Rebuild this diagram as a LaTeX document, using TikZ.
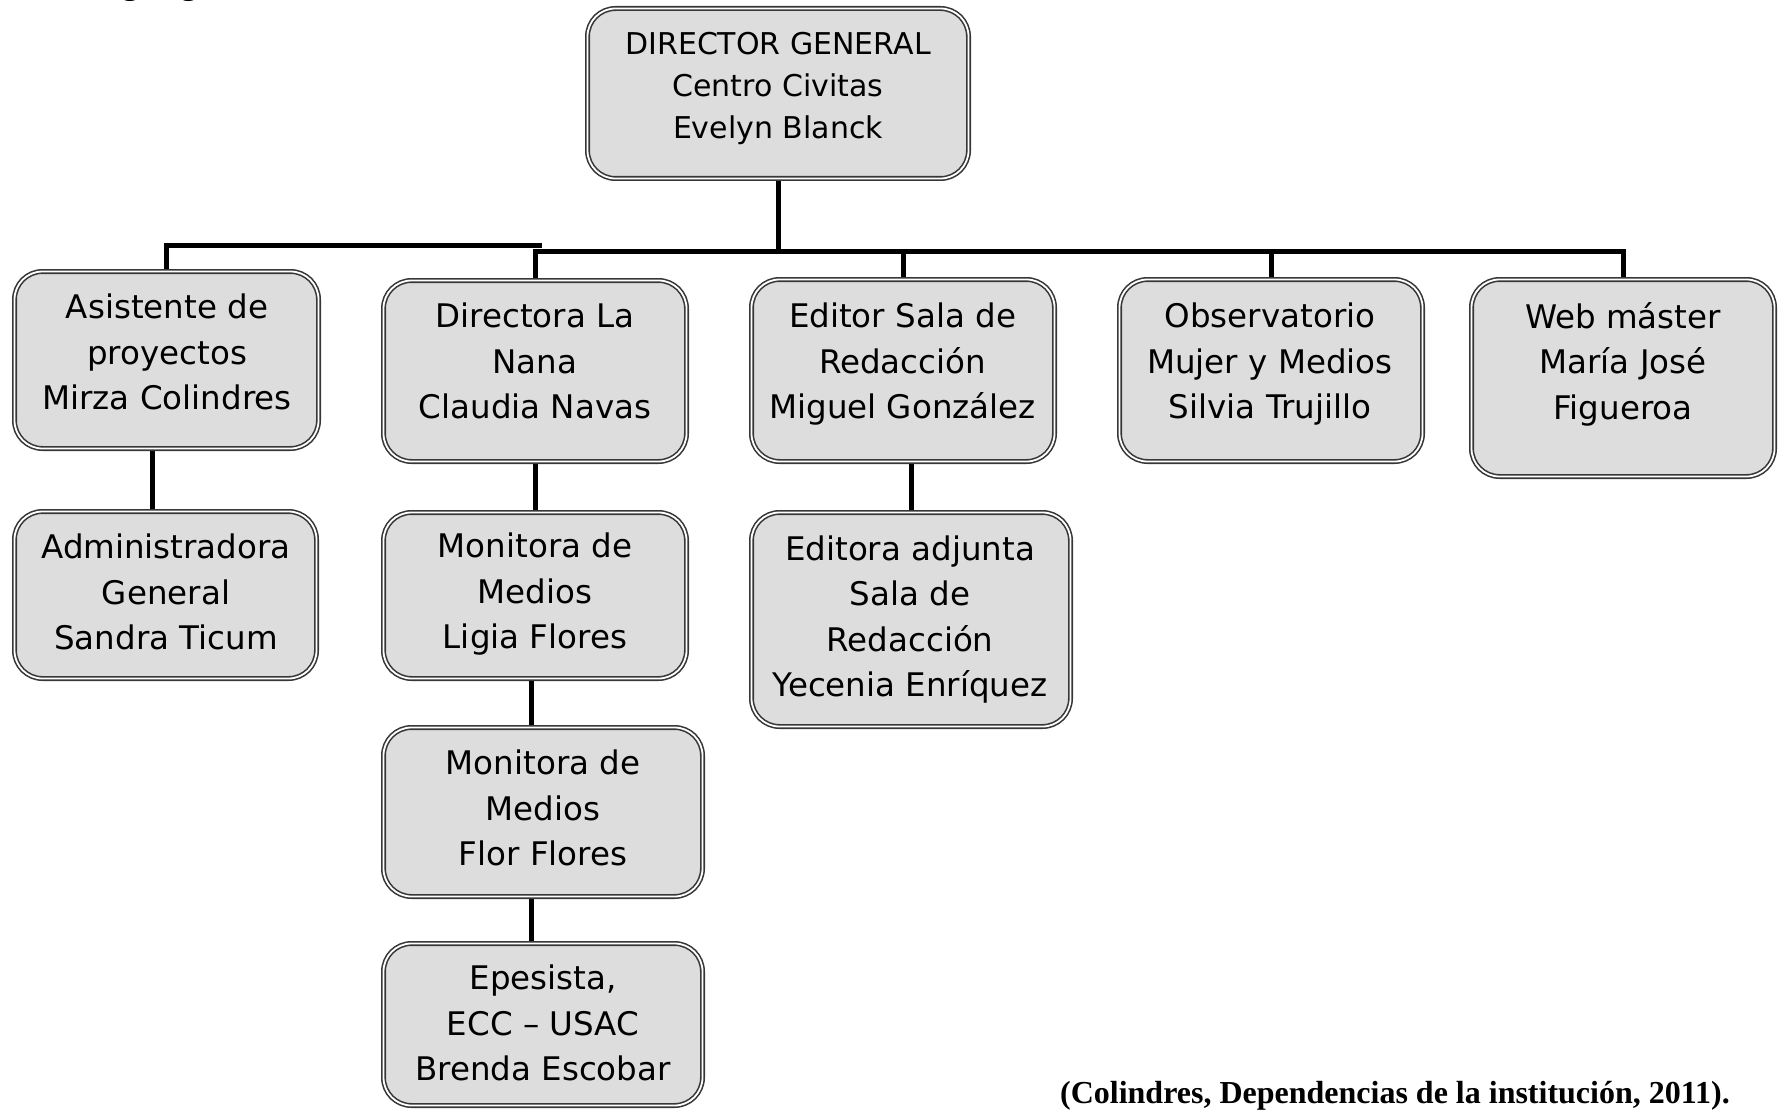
\documentclass[tikz,border=0pt]{standalone}
\usepackage{fontspec}
\setmainfont{DejaVu Sans}
\newfontfamily\citefont{Liberation Serif}
\definecolor{boxfill}{RGB}{221,221,221}
\definecolor{boxline}{RGB}{55,55,55}
\pgfdeclarelayer{bg}
\pgfsetlayers{bg,main}
\tikzset{
  orgbox/.style={draw=boxline, double=white, line width=1.6pt, double distance=1.8pt,
    fill=boxfill, rounded corners=28pt, inner sep=0pt},
  boxtext/.style={align=center, inner sep=0pt, font=\fontsize{32.5}{45.5}\selectfont},
  dirtext/.style={align=center, inner sep=0pt, font=\fontsize{30}{42}\selectfont},
  conn/.style={line width=5pt, black},
  citestyle/.style={inner sep=0pt, font=\citefont\bfseries\fontsize{32}{32}\selectfont}
}
\begin{document}
\begin{tikzpicture}[x=1pt,y=-1pt]
\useasboundingbox (0,0) rectangle (1780,1110);

% cut-off title fragment at top
\node[citestyle, anchor=base west] (title) at (83,-5) {Organigrama};

% boxes
\node[orgbox, minimum width=381pt, minimum height=170pt] (dir) at (778,93.5) {};
\node[orgbox, minimum width=304pt, minimum height=177pt] (asis) at (166.5,360) {};
\node[orgbox, minimum width=303pt, minimum height=181pt] (nana) at (535,371) {};
\node[orgbox, minimum width=303pt, minimum height=182pt] (editor) at (903,370.5) {};
\node[orgbox, minimum width=303pt, minimum height=182pt] (obs) at (1271,370.5) {};
\node[orgbox, minimum width=303pt, minimum height=197pt] (web) at (1623,378) {};
\node[orgbox, minimum width=302pt, minimum height=167pt] (admin) at (165.5,595) {};
\node[orgbox, minimum width=303pt, minimum height=166pt] (ligia) at (535,595.5) {};
\node[orgbox, minimum width=319pt, minimum height=214pt] (editora) at (911,619.5) {};
\node[orgbox, minimum width=319pt, minimum height=169pt] (flor) at (543,812) {};
\node[orgbox, minimum width=319pt, minimum height=162pt] (epes) at (543,1024.5) {};

% texts
\node[dirtext] (dir-t) at (778,88) {DIRECTOR GENERAL\\Centro Civitas\\Evelyn Blanck};
\node[boxtext] (asis-t) at (167,352) {Asistente de\\proyectos\\Mirza Colindres};
\node[boxtext] (nana-t) at (535,361) {Directora La\\Nana\\Claudia Navas};
\node[boxtext] (editor-t) at (902.5,364.5) {Editor Sala de\\Redacción\\Miguel González};
\node[boxtext] (obs-t) at (1270,364.5) {Observatorio\\Mujer y Medios\\Silvia Trujillo};
\node[boxtext] (web-t) at (1623,364) {Web máster\\María José\\Figueroa};
\node[boxtext] (admin-t) at (166,592) {Administradora\\General\\Sandra Ticum};
\node[boxtext] (ligia-t) at (535,594.5) {Monitora de\\Medios\\Ligia Flores};
\node[boxtext] (editora-t) at (910,619.5) {Editora adjunta\\Sala de\\Redacción\\Yecenia Enríquez};
\node[boxtext] (flor-t) at (543,808) {Monitora de\\Medios\\Flor Flores};
\node[boxtext] (epes-t) at (543,1023) {Epesista,\\ECC – USAC\\Brenda Escobar};

% citation
\node[citestyle, anchor=east] (cite) at (1730,1096) {(Colindres, Dependencias de la institución, 2011).};

% connectors
\coordinate (hub) at (778,251);
\coordinate (busL) at (542,245.5);
\begin{pgfonlayer}{bg}
\draw[conn] (dir.south) -- (hub);
\draw[conn] (nana.north) -- (nana.north |- hub) -- (web.north |- hub) -- (web.north);
\draw[conn] (editor.north) -- (editor.north |- hub);
\draw[conn] (obs.north) -- (obs.north |- hub);
\draw[conn] (asis.north) -- (asis.north |- busL) -- (busL);
\draw[conn] ([xshift=-13.5pt]admin.north) -- ([xshift=-13.5pt]admin.north |- asis.south);
\draw[conn] (ligia.north) -- (ligia.north |- nana.south);
\draw[conn] (editora.north) -- (editora.north |- editor.south);
\draw[conn] ([xshift=-12pt]flor.north) -- ([xshift=-12pt]flor.north |- ligia.south);
\draw[conn] ([xshift=-12pt]epes.north) -- ([xshift=-12pt]epes.north |- flor.south);
\end{pgfonlayer}
\end{tikzpicture}
\end{document}
